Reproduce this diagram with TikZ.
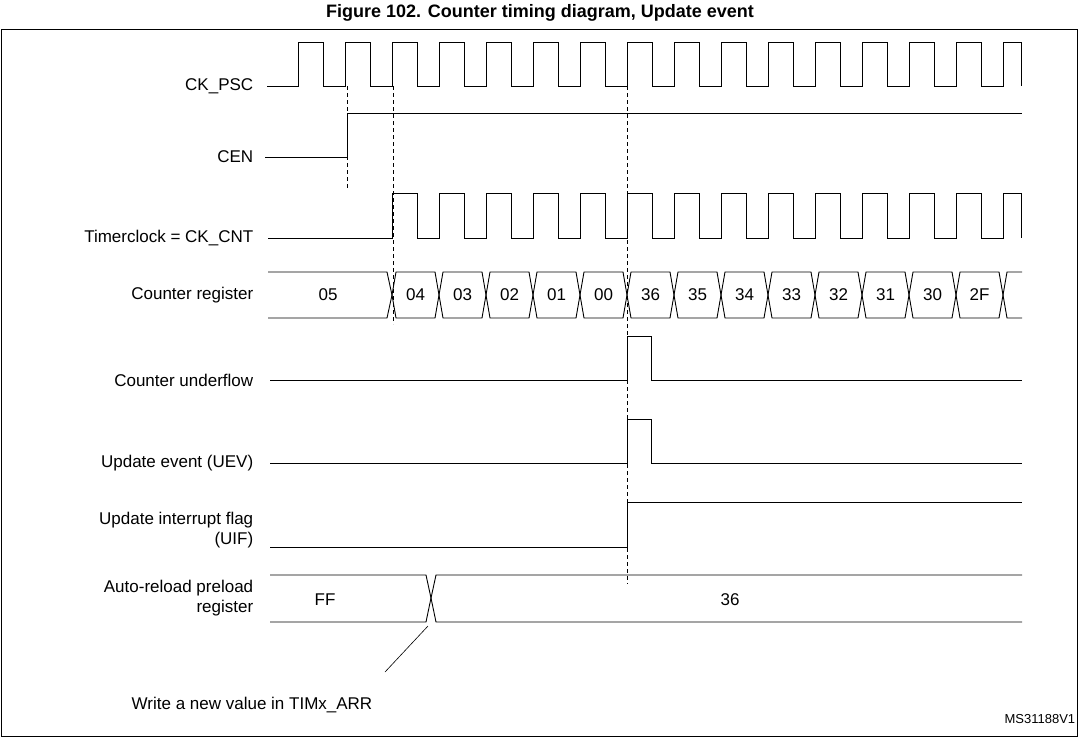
\documentclass[tikz,border=0pt]{standalone}
\usepackage{fontspec}
\setmainfont{Liberation Sans}
\begin{document}
\begin{tikzpicture}[x=1pt,y=-1pt,line width=0.9pt,
  lbl/.style={anchor=east,align=right,font=\fontsize{17}{20}\selectfont},
  val/.style={font=\fontsize{17}{20}\selectfont},
  dsh/.style={dashed,dash pattern=on 4pt off 3pt}]
\useasboundingbox (0,0) rectangle (1079,737);
\node[font=\bfseries\fontsize{18}{21}\selectfont] (title) at (540,13) {Figure 102. Counter timing diagram, Update event};
\draw (1,29) rectangle (1077,736);
% labels
\node[lbl] (l1) at (257,86) {CK\_PSC};
\node[lbl] (l2) at (257,157) {CEN};
\node[lbl] (l3) at (257,238) {Timerclock = CK\_CNT};
\node[lbl] (l4) at (257,295) {Counter register};
\node[lbl] (l5) at (257,380) {Counter underflow};
\node[lbl] (l6) at (257,463) {Update event (UEV)};
\node[lbl] (l7) at (257,530) {Update interrupt flag\\(UIF)};
\node[lbl] (l8) at (257,598) {Auto-reload preload\\register};
% CK_PSC
\draw (267,86) -- (298,86)
  \foreach \i in {0,...,14} { -- ({298+47*\i},86) -- ({298+47*\i},42) -- ({323+47*\i},42) -- ({323+47*\i},86) -- ({345+47*\i},86) }
  -- (1003,86) -- (1003,42) -- (1021,42) -- (1021,86);
% CEN
\draw (265,157) -- (347,157) -- (347,113) -- (1022,113);
% CK_CNT
\draw (268,238) -- (392,238)
  \foreach \i in {2,...,14} { -- ({298+47*\i},238) -- ({298+47*\i},193) -- ({323+47*\i},193) -- ({323+47*\i},238) -- ({345+47*\i},238) }
  -- (1003,238) -- (1003,193) -- (1021,193) -- (1021,238);
% Counter register
\draw (268,272) -- (387,272) -- (392,295) -- (387,318) -- (268,318);
\foreach \v [count=\i from 0] in {04,03,02,01,00,36,35,34,33,32,31,30,2F} {
  \pgfmathsetmacro\a{392+47*\i}
  \pgfmathsetmacro\b{392+47*(\i+1)}
  \draw (\a,295) -- (\a+4,272) -- (\b-4,272) -- (\b,295) -- (\b-4,318) -- (\a+4,318) -- cycle;
  \node[val] at ({(\a+\b)/2},295) {\v};
}
\draw (1003,295) -- (1007,272) -- (1022,272) (1003,295) -- (1007,318) -- (1022,318);
\node[val] (c05) at (328,295) {05};
% underflow, UEV, UIF
\draw (270,380) -- (627,380) -- (627,336) -- (651,336) -- (651,380) -- (1022,380);
\draw (270,463) -- (627,463) -- (627,419) -- (651,419) -- (651,463) -- (1022,463);
\draw (270,547) -- (627,547) -- (627,502) -- (1022,502);
% ARR
\draw (270,575) -- (426,575) -- (431,598) -- (436,575) -- (1022,575);
\draw (270,622) -- (426,622) -- (431,598) -- (436,622) -- (1022,622);
\node[val] (ff) at (325,600) {FF};
\node[val] (a36) at (730,600) {36};
% dashed
\draw[dsh] (347,86) -- (347,190);
\draw[dsh] (393,86) -- (393,324);
\draw[dsh] (627,86) -- (627,584);
% annotation
\node[val] (note) at (252,705) {Write a new value in TIMx\_ARR};
\coordinate (nt) at (385,672);
\draw[line width=0.6pt] (nt) -- (428,626);
\node[font=\fontsize{13}{15}\selectfont,anchor=east] (ms) at (1079,719) {MS31188V1};
\end{tikzpicture}
\end{document}
